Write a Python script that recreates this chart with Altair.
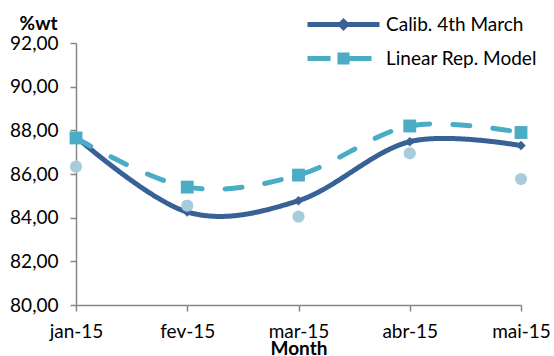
import altair as alt
import pandas as pd

months = ["jan-15", "fev-15", "mar-15", "abr-15", "mai-15"]
calib = [87.70, 84.26, 84.78, 87.48, 87.30]
linear = [87.65, 85.40, 85.95, 88.20, 87.90]
measured = [86.34, 84.55, 84.05, 86.95, 85.77]

S1 = "Calib. 4th March"
S2 = "Linear Rep. Model"
C1 = "#386295"
C2 = "#4BACC6"
C3 = "#A7CDDC"
FONT = "Lato"

rows = []
for m, a, b in zip(months, calib, linear):
    rows.append({"month": m, "series": S1, "key": S1, "value": a})
    rows.append({"month": m, "series": S2, "key": S2, "value": b})
df = pd.DataFrame(rows)
dm = pd.DataFrame({"month": months, "value": measured})

xenc = alt.X("month:N", sort=months, scale=alt.Scale(type="point", padding=0),
             axis=alt.Axis(title="Month", labelAngle=0, titleY=49, titleBaseline="alphabetic",
                           labelPadding=11, tickSize=6))
yenc = alt.Y("value:Q", scale=alt.Scale(domain=[80, 92], nice=False, zero=False),
             axis=alt.Axis(title="%wt", values=[80, 82, 84, 86, 88, 90, 92],
                           labelExpr="replace(format(datum.value, '.2f'), '.', ',')",
                           titleAngle=0, titleAlign="right", titleBaseline="alphabetic",
                           titleX=-19, titleY=-14, labelPadding=12, tickSize=6))

p1 = "M-4,-0.28H4V0.28H-4Z M0,-0.72L0.72,0L0,0.72L-0.72,0Z"
p2 = "M-4,-0.28H-1.44V0.28H-4Z M-0.67,-0.67H0.67V0.67H-0.67Z M0.67,-0.28H3.11V0.28H0.67Z"

legend = alt.Legend(
    title=None, orient="none", legendX=258, legendY=-28, padding=0,
    symbolSize=324, symbolStrokeWidth=0, labelOffset=33, rowPadding=14,
    symbolOpacity=1,
    labelFontSize=19, labelFont=FONT, labelColor="#000000",
)

cscale = alt.Scale(domain=[S1, S2], range=[C1, C2])

lines = alt.Chart(df).mark_line(interpolate="cardinal", tension=0, strokeWidth=5, strokeCap="round").encode(
    x=xenc, y=yenc,
    color=alt.Color("series:N", scale=cscale, legend=None),
    strokeDash=alt.StrokeDash("series:N", scale=alt.Scale(domain=[S1, S2], range=[[1, 0], [17, 23]]), legend=None),
)

pts = alt.Chart(df).mark_point(filled=True, opacity=1).encode(
    x=xenc, y=yenc,
    color=alt.Color("series:N", scale=cscale, legend=None),
    shape=alt.Shape("series:N", scale=alt.Scale(domain=[S1, S2], range=["diamond", "square"]), legend=None),
    size=alt.Size("series:N", scale=alt.Scale(domain=[S1, S2], range=[90, 165]), legend=None),
)

leg = alt.Chart(df).transform_filter("false").mark_point(filled=True, opacity=1).encode(
    x=xenc, y=yenc,
    color=alt.Color("key:N", scale=cscale, legend=legend),
    shape=alt.Shape("key:N", scale=alt.Scale(domain=[S1, S2], range=[p1, p2]), legend=legend),
)

circ = alt.Chart(dm).mark_circle(size=150, opacity=1, color=C3).encode(x=xenc, y=yenc)

chart = alt.layer(lines, pts, circ, leg).resolve_scale(color="independent", shape="independent").properties(
    width=445, height=262,
    background="white",
    autosize=alt.AutoSizeParams(type="none"),
    padding={"left": 76, "top": 43, "right": 33, "bottom": 51},
).configure_view(stroke=None).configure_axis(
    grid=False, domainColor="#868686", tickColor="#868686", domainWidth=1.5, tickWidth=1.5,
    labelFont=FONT, labelFontSize=19, labelColor="#000000",
    titleFont=FONT, titleFontSize=19, titleColor="#000000", titleFontWeight="bold",
)

chart.save("out.html", embed_options={"renderer": "svg", "actions": False})
